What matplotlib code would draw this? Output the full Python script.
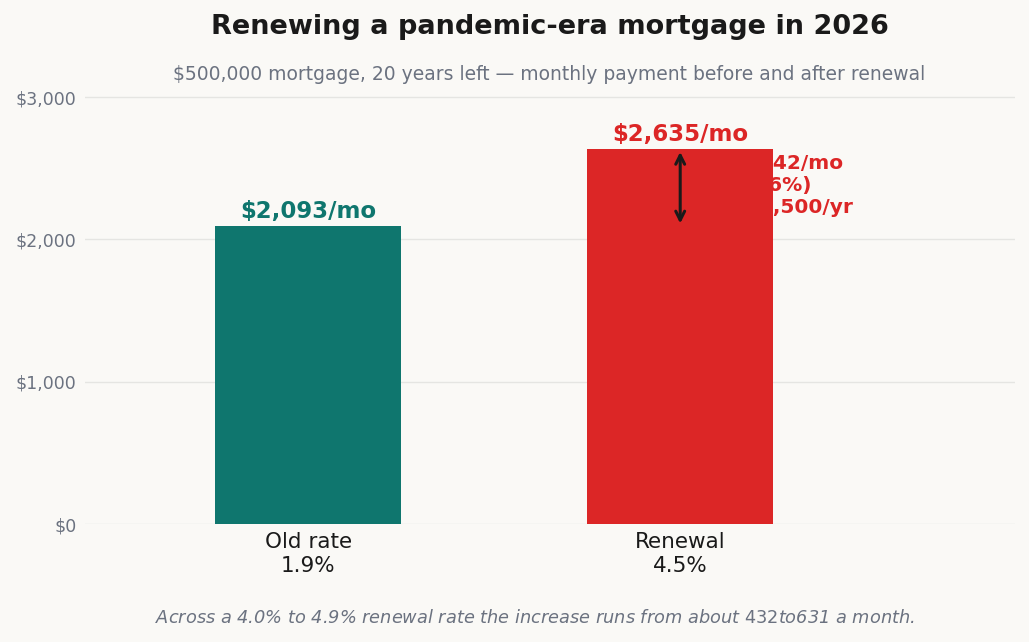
import matplotlib.pyplot as plt

# Data
labels = ["Old rate\n1.9%", "Renewal\n4.5%"]
payments = [2093, 2635]
colors = ["#0f766e", "#dc2626"]
yticks = [0, 1000, 2000, 3000]

diff = payments[1] - payments[0]
pct = diff / payments[0] * 100

bg = "#faf9f6"
grey = "#6b7280"
dark = "#1a1a1a"

fig = plt.figure(figsize=(10.29, 6.42), dpi=100, facecolor=bg)
ax = fig.add_axes([85 / 1029, 118 / 642, 930 / 1029, 441 / 642])
ax.set_facecolor(bg)

x = list(range(len(payments)))
ax.bar(x, payments, width=0.5, color=colors, zorder=3)

for xi, val, c in zip(x, payments, colors):
    ax.annotate(f"\\${val:,}/mo", (xi, val), xytext=(0, 2), textcoords="offset points",
                ha="center", va="bottom", fontsize=16.5, fontweight="bold", color=c)

# difference arrow and note (note sits behind the bar)
ax.annotate("", xy=(1, payments[1]), xytext=(1, payments[0]),
            arrowprops=dict(arrowstyle="<->", color=dark, lw=2.2, mutation_scale=16),
            zorder=4)
ax.text(1.13, (payments[0] + payments[1]) / 2 + 12,
        f"+\\${diff}/mo\n(+{pct:.0f}%)\n+\\${round(diff * 12, -2):,.0f}/yr",
        ha="left", va="center", fontsize=14.5, fontweight="bold", color=colors[1],
        zorder=1, linespacing=1.2)

ax.set_xlim(-0.6, 1.9)
ax.set_ylim(0, 3100)
ax.set_xticks(x)
ax.set_xticklabels(labels, fontsize=15.5, color=dark)
ax.set_yticks(yticks)
ax.set_yticklabels([f"\\${v:,}" for v in yticks], fontsize=12.5, color=grey)
ax.tick_params(length=0)
ax.tick_params(axis="y", pad=6)
ax.tick_params(axis="x", pad=6)
ax.grid(axis="y", color="#e5e5e2", lw=1, zorder=0)
ax.set_axisbelow(True)
for s in ax.spines.values():
    s.set_visible(False)

fig.text(550 / 1029, 1 - 27 / 642, "Renewing a pandemic-era mortgage in 2026",
         ha="center", va="center", fontsize=19.5, fontweight="bold", color=dark)
fig.text(549 / 1029, 1 - 74 / 642,
         "\\$500,000 mortgage, 20 years left \u2014 monthly payment before and after renewal",
         ha="center", va="center", fontsize=13.5, color=grey)
fig.text(535 / 1029, 1 - 618 / 642,
         "Across a 4.0% to 4.9% renewal rate the increase runs from about $432 to $631 a month.",
         ha="center", va="center", fontsize=12.8, style="italic", color=grey)

fig.savefig("out.png", dpi=100, facecolor=bg)
